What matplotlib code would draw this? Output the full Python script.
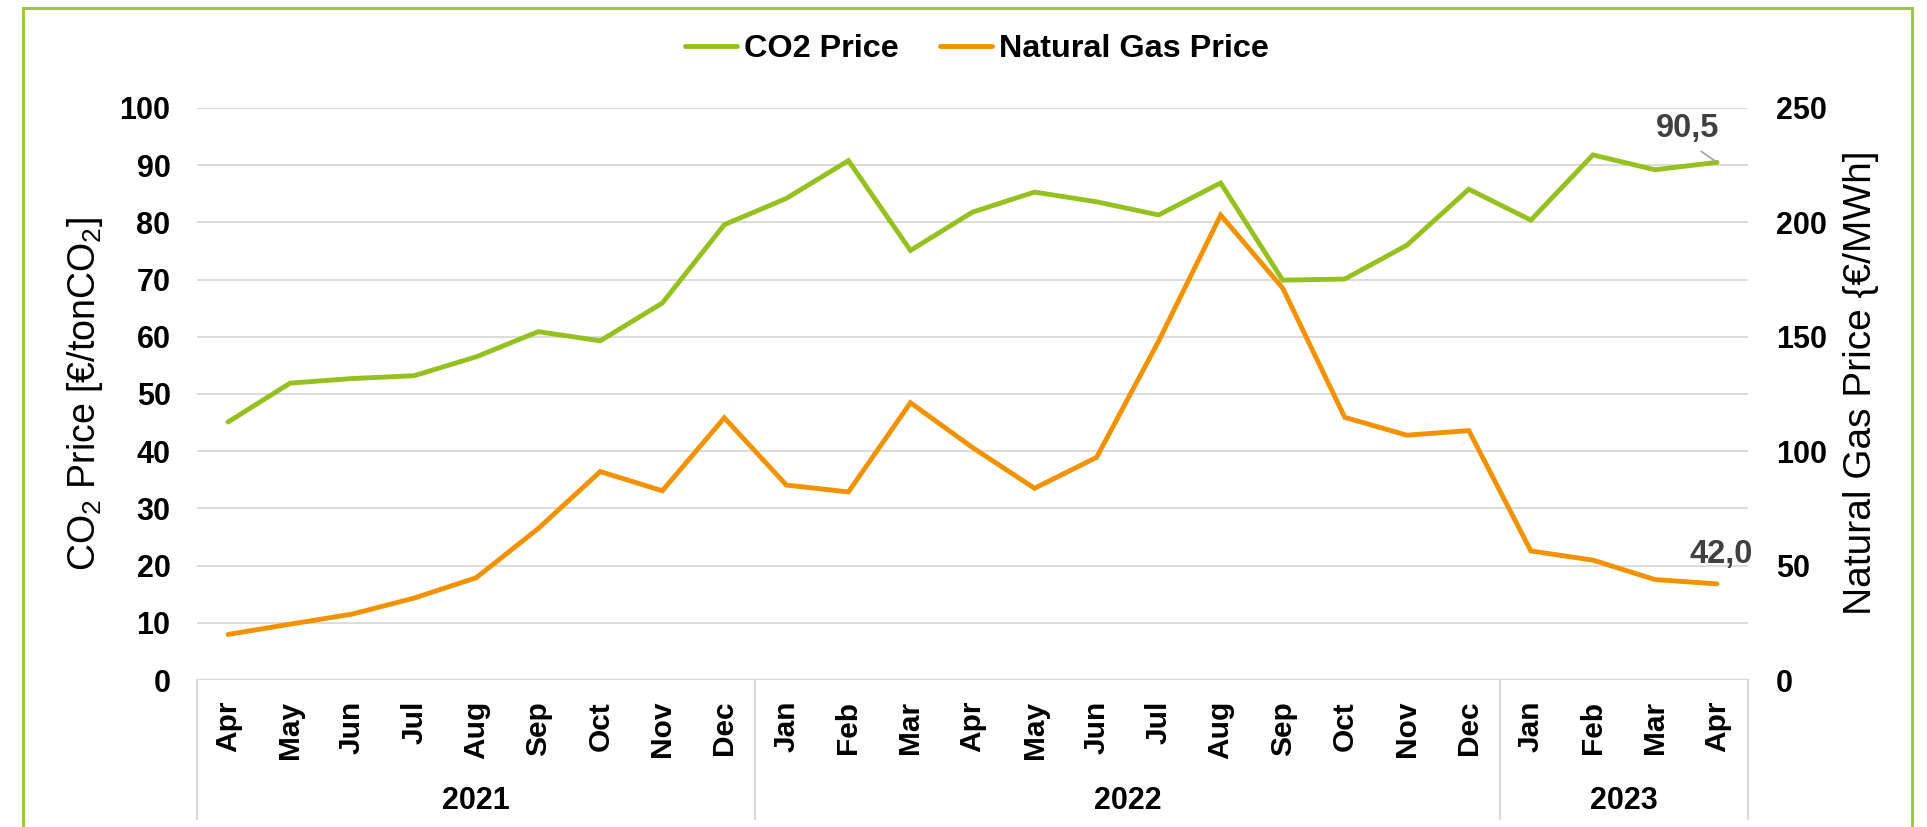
import matplotlib
matplotlib.use("Agg")
import matplotlib.pyplot as plt
import matplotlib.transforms as mtransforms
from matplotlib.patches import Rectangle

plt.rcParams['font.family'] = ['Liberation Sans', 'DejaVu Sans']
plt.rcParams['mathtext.fontset'] = 'custom'
plt.rcParams['mathtext.rm'] = 'Liberation Sans'

# ---- data ----
months = ['Apr', 'May', 'Jun', 'Jul', 'Aug', 'Sep', 'Oct', 'Nov', 'Dec',
          'Jan', 'Feb', 'Mar', 'Apr', 'May', 'Jun', 'Jul', 'Aug', 'Sep', 'Oct', 'Nov', 'Dec',
          'Jan', 'Feb', 'Mar', 'Apr']
years = ['2021', '2022', '2023']
year_counts = [9, 12, 4]
co2_price = [45.1, 51.9, 52.7, 53.2, 56.5, 60.9, 59.3, 65.9, 79.6,
             84.2, 90.8, 75.1, 81.8, 85.3, 83.6, 81.3, 86.9, 69.9, 70.1, 76.0, 85.8,
             80.4, 91.8, 89.2, 90.5]
gas_price = [19.9, 24.4, 28.8, 35.8, 44.7, 66.2, 91.1, 82.7, 114.6,
             85.2, 82.2, 121.2, 101.6, 83.8, 97.3, 148.1, 203.2, 171.3, 114.8, 107.0, 109.0,
             56.4, 52.4, 43.9, 42.0]
left_ticks = [0, 10, 20, 30, 40, 50, 60, 70, 80, 90, 100]
right_ticks = [0, 50, 100, 150, 200, 250]

GREEN = '#95C11F'
ORANGE = '#F39200'
GRID = '#D9D9D9'
FRAME = '#9DCB3B'

fig = plt.figure(figsize=(19.27, 8.27), dpi=100)
ax = fig.add_axes([197/1927, 1-680/827, (1748-197)/1927, (680-108)/827])
ax2 = ax.twinx()

x = list(range(len(months)))
l1, = ax.plot(x, co2_price, color=GREEN, lw=3.5, solid_capstyle='round', solid_joinstyle='miter', zorder=3)
l2, = ax2.plot(x, gas_price, color=ORANGE, lw=3.5, solid_capstyle='round', solid_joinstyle='miter', zorder=3)

ax.set_xlim(-0.5, len(months) - 0.5)
ax.set_ylim(0, 100)
ax2.set_ylim(0, 250)
ax.set_yticks(left_ticks)
ax2.set_yticks(right_ticks)
ax.grid(axis='y', color=GRID, lw=1.3, zorder=0)
ax.set_axisbelow(True)

for a in (ax, ax2):
    for s in ('top', 'left', 'right', 'bottom'):
        a.spines[s].set_visible(False)
ax.axhline(0, color=GRID, lw=1.5, zorder=1)

ax.tick_params(axis='y', length=0, pad=19, labelsize=22)
ax2.tick_params(axis='y', length=0, pad=20, labelsize=22)
for lab in ax.get_yticklabels() + ax2.get_yticklabels():
    lab.set_fontweight('bold')

ax.set_xticks(x)
ax.set_xticklabels(months, rotation=90, fontsize=21.5, fontweight='bold', va='top', ha='center')
ax.tick_params(axis='x', length=0, pad=15)

# year groups and separators
trans = mtransforms.blended_transform_factory(ax.transData, ax.transAxes)
start = 0
bounds = [-0.5]
for yr, n in zip(years, year_counts):
    center = start + (n - 1) / 2
    ax.text(center, -0.2115, yr, transform=trans, ha='center', va='center',
            fontsize=22, fontweight='bold')
    start += n
    bounds.append(start - 0.5)
for b in bounds:
    ax.plot([b, b], [0, -0.243], transform=trans, color=GRID, lw=1.5, clip_on=False)

# axis labels
ax.set_ylabel(r'CO$_\mathregular{2}$ Price [€/tonCO$_\mathregular{2}$]', fontsize=27)
ax.yaxis.set_label_coords(-0.0596, 0.5)
ax2.set_ylabel('Natural Gas Price {€/MWh]', fontsize=28, rotation=90)
ax2.yaxis.set_label_coords(1.061, 0.52)

# data labels on last points
def fmt(v):
    return f"{v:.1f}".replace('.', ',')

ax.annotate(fmt(co2_price[-1]), xy=(x[-1], co2_price[-1]), xytext=(-21.5, 24.5),
            textcoords='offset points', ha='center', va='center', fontsize=23.5,
            fontweight='bold', color='#404040', zorder=5,
            arrowprops=dict(arrowstyle='-', color='#A6A6A6', lw=1.3,
                            relpos=(0.55, 0.0), shrinkA=6, shrinkB=1.5))
ax2.annotate(fmt(gas_price[-1]), xy=(x[-1], gas_price[-1]), xytext=(3, 21.5),
             textcoords='offset points', ha='center', va='center', fontsize=23.5,
             fontweight='bold', color='#404040', zorder=5)

# legend
fig.legend([l1, l2], ['CO2 Price', 'Natural Gas Price'], loc='center',
           bbox_to_anchor=(977/1927, 1-49/827), ncol=2, frameon=False,
           prop={'size': 23.3, 'weight': 'bold'}, handlelength=1.6,
           handletextpad=0.2, columnspacing=1.3)

# outer frame
fig.patches.append(Rectangle((23/1927, -0.05), (1912-23)/1927, 1-8/827+0.05,
                             transform=fig.transFigure, fill=False,
                             edgecolor=FRAME, lw=2.2, zorder=0))

fig.savefig('out.png', dpi=100, facecolor='white')
